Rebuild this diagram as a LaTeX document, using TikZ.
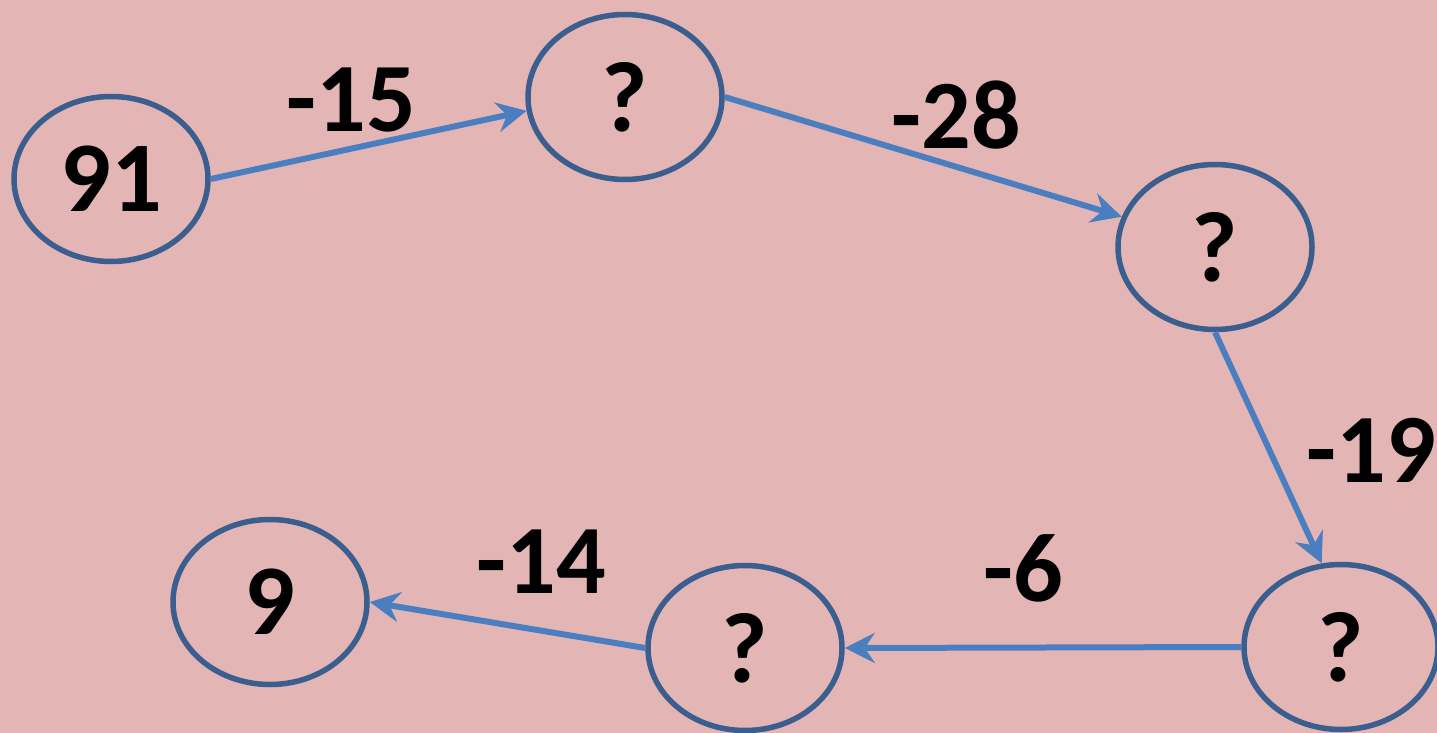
\documentclass[tikz,border=0pt]{standalone}
\usepackage{fontspec}
\setmainfont{Carlito}
\usetikzlibrary{arrows.meta,shapes.geometric}
\definecolor{bg}{HTML}{E4B5B5}
\definecolor{ell}{HTML}{3A5F8F}
\definecolor{arr}{HTML}{4A7EC0}
\tikzset{
  bubble/.style={ellipse, draw=ell, line width=5.5pt, minimum width=194pt, minimum height=165pt, inner sep=0pt, font=\fontsize{100}{100}\selectfont\bfseries},
  link/.style={draw=arr, line width=6pt, -{Stealth[length=30pt,width=30pt,inset=10pt]}},
  lab/.style={font=\fontsize{98}{98}\selectfont\bfseries, inner sep=0pt}
}
\begin{document}
\begin{tikzpicture}[x=1pt,y=-1pt]
\fill[bg] (0,0) rectangle (1437,733);
\useasboundingbox (0,0) rectangle (1437,733);
\node[bubble] (a) at (111,179) {91};
\node[bubble] (b) at (625,97) {?};
\node[bubble] (c) at (1215,247) {?};
\node[bubble] (d) at (1341,647) {?};
\node[bubble] (e) at (745,648) {?};
\node[bubble] (f) at (270,602) {9};
\draw[link] (a.east) -- (b.188);
\draw[link] (b.east) -- (c.162);
\draw[link] (c.south) -- (d.103);
\draw[link] (d.west) -- (e.east);
\draw[link] (e.west) -- (f.east);
\node[lab] (l1) at (351,100) {-15};
\node[lab] (l2) at (956,115) {-28};
\node[lab] (l3) at (1371,450) {-19};
\node[lab] (l4) at (1023,568) {-6};
\node[lab] (l5) at (541,562) {-14};
\end{tikzpicture}
\end{document}
